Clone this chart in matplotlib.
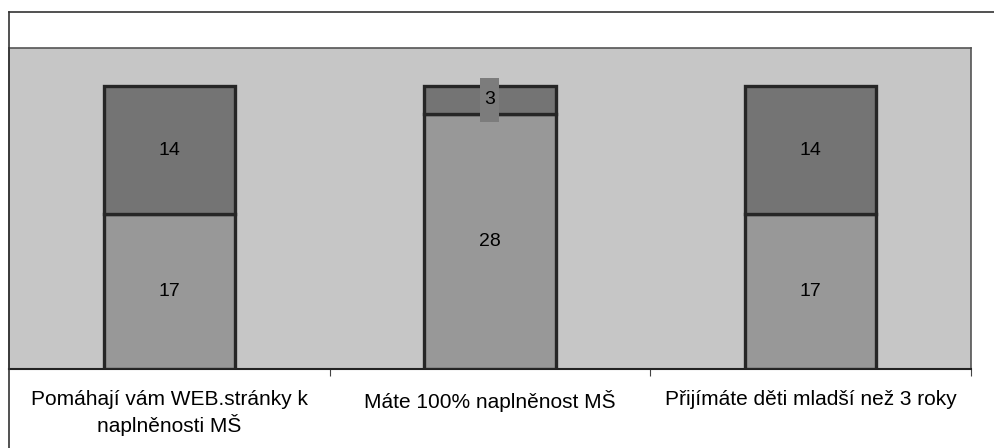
import matplotlib
matplotlib.use("Agg")
import matplotlib.pyplot as plt
from matplotlib.lines import Line2D
from matplotlib.patches import Rectangle
from matplotlib.transforms import ScaledTranslation

categories = ["Pomáhají vám WEB.stránky k\nnaplněnosti MŠ",
              "Máte 100% naplněnost MŠ",
              "Přijímáte děti mladší než 3 roky"]
bottom_vals = [17, 28, 17]
top_vals = [14, 3, 14]

plt.rcParams['font.family'] = ['Liberation Sans', 'DejaVu Sans']

fig = plt.figure(figsize=(9.95, 4.48), dpi=100)
fig.patch.set_facecolor('white')
W, H = 995, 448
ax = fig.add_axes([9 / W, (H - 369) / H, (971 - 9) / W, (369 - 48) / H])
ax.set_facecolor('#c6c6c6')

x = list(range(len(categories)))
bw = 0.41
ax.bar(x, bottom_vals, width=bw, color='#989898', edgecolor='#262626', linewidth=2.4, zorder=3)
ax.bar(x, top_vals, width=bw, bottom=bottom_vals, color='#747474', edgecolor='#262626', linewidth=2.4, zorder=3)

fs = 14
for i in x:
    ax.text(i, bottom_vals[i] / 2, str(bottom_vals[i]), ha='center', va='center', fontsize=fs, zorder=6)
    ytop = bottom_vals[i] + top_vals[i] / 2
    if top_vals[i] < 5:
        tr = fig.dpi_scale_trans + ScaledTranslation(i, ytop, ax.transData)
        ax.add_patch(Rectangle((-0.095, -0.22), 0.19, 0.44, transform=tr,
                               facecolor='#7c7c7c', edgecolor='none', zorder=5))
    ax.text(i, ytop, str(top_vals[i]), ha='center', va='center', fontsize=fs, zorder=6)

ax.set_xlim(-0.5, len(categories) - 0.5)
ax.set_ylim(0, 35.2)
ax.set_yticks([])
ax.set_xticks(x)
ax.set_xticklabels(categories, fontsize=15, linespacing=1.3, va='top')
ax.tick_params(axis='x', which='major', length=0, pad=15)
ax.set_xticks([0.5, 1.5, 2.5], minor=True)
ax.tick_params(axis='x', which='minor', length=5, width=0.8, color='#444444')

for s in ['left', 'top', 'right']:
    ax.spines[s].set_color('#555555')
    ax.spines[s].set_linewidth(1.2)
ax.spines['bottom'].set_color('#222222')
ax.spines['bottom'].set_linewidth(1.5)

# outer frame lines
fig.add_artist(Line2D([9 / W, 1.0], [(H - 12) / H, (H - 12) / H], color='#333333', lw=1.2))
fig.add_artist(Line2D([9 / W, 9 / W], [0, (H - 12) / H], color='#333333', lw=1.2))

fig.savefig('out.png', dpi=100)
